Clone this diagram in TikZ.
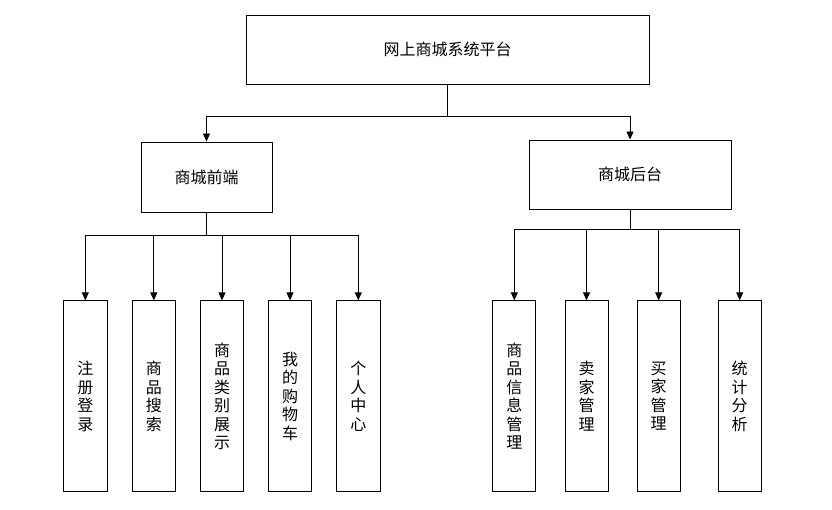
\documentclass[tikz,border=0pt]{standalone}
\usepackage{fontspec}
\usepackage{tikz}
\usetikzlibrary{arrows.meta, positioning}
\newfontfamily\cjk{Noto Sans CJK SC}

\begin{document}
\begin{tikzpicture}[x=1pt, y=-1pt, >={Triangle[length=8pt,width=7pt]}, line width=0.9pt,
    box/.style={draw, inner sep=0pt, font=\cjk\fontsize{16}{18.5}\selectfont},
    leaf/.style={box, minimum width=43.5pt, minimum height=191pt, align=center}]
    \useasboundingbox (0,0) rectangle (832,510);
    % 1. 顶层与两个子系统
    \node[box, minimum width=403pt, minimum height=69pt] (root) at (447.5,49.5) {网上商城系统平台};
    \node[box, minimum width=131pt, minimum height=70pt] (front) at (206.5,177) {商城前端};
    \node[box, minimum width=202pt, minimum height=69pt] (back) at (630,174.5) {商城后台};
    \draw[->] (root.south) -- ++(0,31.7) -| (front.north);
    \draw[->] (root.south) -- ++(0,31.7) -| (back.north);

    % 2. 商城前端的功能模块
    \node[leaf] (reg)  at (85.3,396.3)  {注\\册\\登\\录};
    \node[leaf] (srch) at (153.8,396.3) {商\\品\\搜\\索};
    \node[leaf] (cat)  at (222,396.3)   {商\\品\\类\\别\\展\\示};
    \node[leaf] (cart) at (290,396.3)   {我\\的\\购\\物\\车};
    \node[leaf] (user) at (358.3,396.3) {个\\人\\中\\心};
    \draw[->] (front.south) -- ++(0,23) -| (reg.north);
    \draw[->] (front.south) -- ++(0,23) -| (srch.north);
    \draw[->] (front.south) -- ++(0,23) -| (cat.north);
    \draw[->] (front.south) -- ++(0,23) -| (cart.north);
    \draw[->] (front.south) -- ++(0,23) -| (user.north);

    % 3. 商城后台的功能模块
    \node[leaf, minimum width=43pt] (goods)  at (514.3,396.3) {商\\品\\信\\息\\管\\理};
    \node[leaf, minimum width=43pt] (seller) at (586.5,396.3) {卖\\家\\管\\理};
    \node[leaf, minimum width=43pt] (buyer)  at (658.7,396.3) {买\\家\\管\\理};
    \node[leaf, minimum width=43pt] (stat)   at (739.7,396.3) {统\\计\\分\\析};
    \draw[->] (back.south) -- ++(0,20) -| (goods.north);
    \draw[->] (back.south) -- ++(0,20) -| (seller.north);
    \draw[->] (back.south) -- ++(0,20) -| (buyer.north);
    \draw[->] (back.south) -- ++(0,20) -| (stat.north);
\end{tikzpicture}
\end{document}
